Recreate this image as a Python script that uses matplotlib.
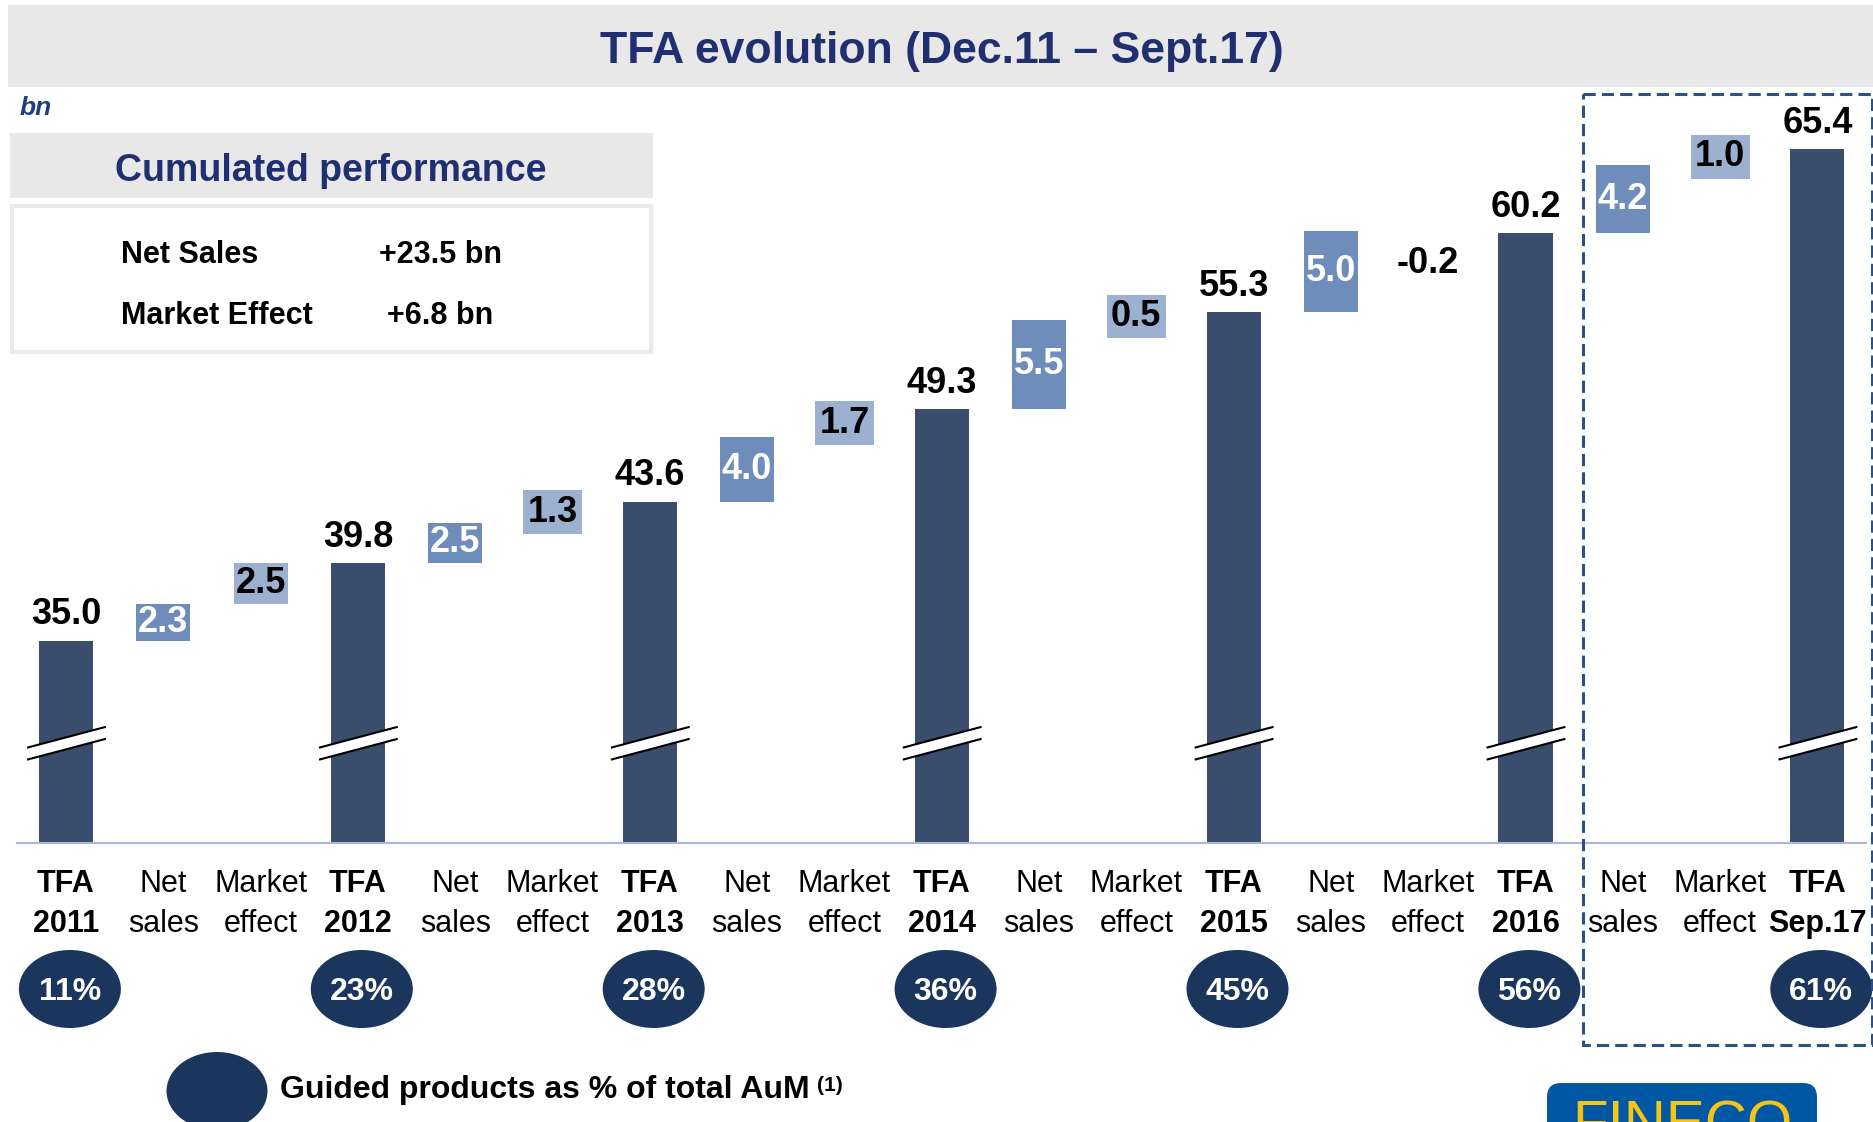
import matplotlib
matplotlib.use("Agg")
import matplotlib.pyplot as plt
import matplotlib.transforms as mtransforms
from matplotlib.patches import Rectangle, Ellipse, Polygon, FancyBboxPatch

plt.rcParams['font.family'] = ['Liberation Sans', 'DejaVu Sans']

# data (bn)
years = ["2011", "2012", "2013", "2014", "2015", "2016", "Sep.17"]
tfa_totals = [35.0, 39.8, 43.6, 49.3, 55.3, 60.2, 65.4]
net_sales = [2.3, 2.5, 4.0, 5.5, 5.0, 4.2]
market_effect = [2.5, 1.3, 1.7, 0.5, -0.2, 1.0]
guided_pct = [11, 23, 28, 36, 45, 56, 61]
summary_labels = ["Net Sales", "Market Effect"]
summary_values = ["+23.5 bn", "+6.8 bn"]

W, H = 1874, 1122
c_tfa = '#3a4d6d'
c_net = '#6f8dba'
c_mkt = '#9cb0d0'
navy = '#1b365d'
title_blue = '#1f2f6f'

fig = plt.figure(figsize=(W / 100, H / 100), dpi=100)
# pixel coords measured from the top-left corner
pix = mtransforms.Affine2D().scale(1 / W, -1 / H).translate(0, 1) + fig.transFigure

step = 97.3   # px between categories
x0 = 66       # px of first category
base_px = 843
px_per_bn = 16.18
ax_left = x0 - 0.5 * step
ax_right = x0 + 18.5 * step
ax = fig.add_axes([ax_left / W, 1 - base_px / H, (ax_right - ax_left) / W, (base_px - 94) / H])
ax.set_xlim(-0.5, 18.5)
ax.set_ylim(22.5, 22.5 + (base_px - 94) / px_per_bn)

tfa_x = [3 * k for k in range(len(tfa_totals))]
net_x = [3 * k + 1 for k in range(len(net_sales))]
mkt_x = [3 * k + 2 for k in range(len(market_effect))]
net_bottom = tfa_totals[:-1]
mkt_bottom = [t + n for t, n in zip(tfa_totals[:-1], net_sales)]

bw = 0.555
ax.bar(tfa_x, tfa_totals, width=bw, color=c_tfa, zorder=2)
ax.bar(net_x, net_sales, bottom=net_bottom, width=bw, color=c_net, zorder=2)
# negative market effect is not shaded in the original
mkt_colors = [c_mkt if v > 0 else 'white' for v in market_effect]
ax.bar(mkt_x, market_effect, bottom=mkt_bottom, width=bw, color=mkt_colors, zorder=2)

# axis break marks on the TFA bars
for x in tfa_x:
    bx = [x - 0.40, x + 0.41]
    up = [28.39, 29.68]
    lo = [27.65, 28.94]
    ax.add_patch(Polygon([(bx[0], lo[0]), (bx[1], lo[1]), (bx[1], up[1]), (bx[0], up[0])],
                         closed=True, fc='white', ec='none', zorder=3))
    ax.plot(bx, up, color='black', lw=1.5, zorder=4, solid_capstyle='butt')
    ax.plot(bx, lo, color='black', lw=1.5, zorder=4, solid_capstyle='butt')

# value labels
for x, v in zip(tfa_x, tfa_totals):
    ax.annotate(f"{v:.1f}", (x, v), xytext=(0, 6), textcoords='offset points',
                ha='center', va='bottom', fontsize=26, fontweight='bold', color='black')
for x, b, v in zip(net_x, net_bottom, net_sales):
    ax.text(x, b + v / 2, f"{v:.1f}", ha='center', va='center', fontsize=26,
            fontweight='bold', color='white', zorder=5)
for x, b, v in zip(mkt_x, mkt_bottom, market_effect):
    if v < 0:
        ax.annotate(f"{v:.1f}", (x, b + v), xytext=(0, -8), textcoords='offset points',
                    ha='center', va='top', fontsize=26, fontweight='bold', color='black')
    elif v < 2:
        ax.text(x, b + v / 2, f"{v:.1f}", ha='center', va='center', fontsize=26,
                fontweight='bold', color='black', zorder=5,
                bbox=dict(boxstyle='square,pad=0.12', fc=c_mkt, ec='none'))
    else:
        ax.text(x, b + v / 2, f"{v:.1f}", ha='center', va='center', fontsize=26,
                fontweight='bold', color='black', zorder=5)

# category labels
cats = []
for k, y in enumerate(years):
    cats.append("TFA\n" + y)
    if k < len(net_sales):
        cats += ["Net\nsales", "Market\neffect"]
ax.set_xticks(range(len(cats)))
ax.set_xticklabels(cats, fontsize=22, linespacing=1.4)
for i, lab in enumerate(ax.get_xticklabels()):
    if i % 3 == 0:
        lab.set_fontweight('bold')
ax.tick_params(axis='x', length=0, pad=19)
ax.set_yticks([])
for s in ['top', 'left', 'right']:
    ax.spines[s].set_visible(False)
ax.spines['bottom'].set_color('#a9b9d4')
ax.spines['bottom'].set_linewidth(1.5)

# guided products bubbles
blend = mtransforms.blended_transform_factory(ax.transData, pix)
for x, p in zip(tfa_x, guided_pct):
    ax.add_patch(Ellipse((x + 0.04, 989), 102 / step, 78, transform=blend, fc=navy, ec='none', clip_on=False))
    ax.text(x + 0.04, 992, f"{p}%", transform=blend, ha='center', va='center', fontsize=23,
            fontweight='bold', color='white', clip_on=False)

fig.add_artist(Ellipse((217, 1091), 101, 78, transform=pix, fc=navy, ec='none'))
leg = fig.text(280, 1090, "Guided products as % of total AuM", transform=pix, ha='left', va='center',
               fontsize=23, fontweight='bold', color='black')
ax.annotate("(1)", xy=(1, 1), xycoords=leg, xytext=(5, -1), textcoords='offset points',
            ha='left', va='top', fontsize=15, fontweight='bold', annotation_clip=False)

# title band
fig.add_artist(Rectangle((8, 5), W - 8, 82, transform=pix, fc='#e8e8e8', ec='none', zorder=0))
fig.text(942, 51, "TFA evolution (Dec.11 \u2013 Sept.17)", transform=pix, ha='center', va='center',
         fontsize=32, fontweight='bold', color=title_blue)
fig.text(20, 108, "bn", transform=pix, ha='left', va='center', fontsize=19,
         fontweight='bold', fontstyle='italic', color='#1f3f7a')

# cumulated performance box
fig.add_artist(Rectangle((10, 133), 643, 65, transform=pix, fc='#e8e8e8', ec='none'))
fig.text(331, 171, "Cumulated performance", transform=pix, ha='center', va='center',
         fontsize=27, fontweight='bold', color=title_blue)
fig.add_artist(Rectangle((12, 206), 639, 146, transform=pix, fc='white', ec='#ebebeb', lw=3))
for (lab, val), yy, xv in zip(zip(summary_labels, summary_values), [255, 316], [379, 387]):
    fig.text(121, yy, lab, transform=pix, ha='left', va='center', fontsize=22, fontweight='bold')
    fig.text(xv, yy, val, transform=pix, ha='left', va='center', fontsize=22, fontweight='bold')

# dashed highlight box on the last period
fig.add_artist(Rectangle((1583, 94), 289, 951, transform=pix, fill=False, ec='#2b5185',
                         lw=2.2, ls=(0, (4, 2))))

# logo (cut by the page edge, as in the original)
fig.add_artist(FancyBboxPatch((1547, 1083), 270, 80, boxstyle='round,pad=0,rounding_size=14',
                              transform=pix, fc='#0057a3', ec='none'))
fig.text(1682, 1142, "FINECO", transform=pix, ha='center', va='baseline', fontsize=42,
         color='#f6c417')

fig.savefig("out.png", dpi=100)
